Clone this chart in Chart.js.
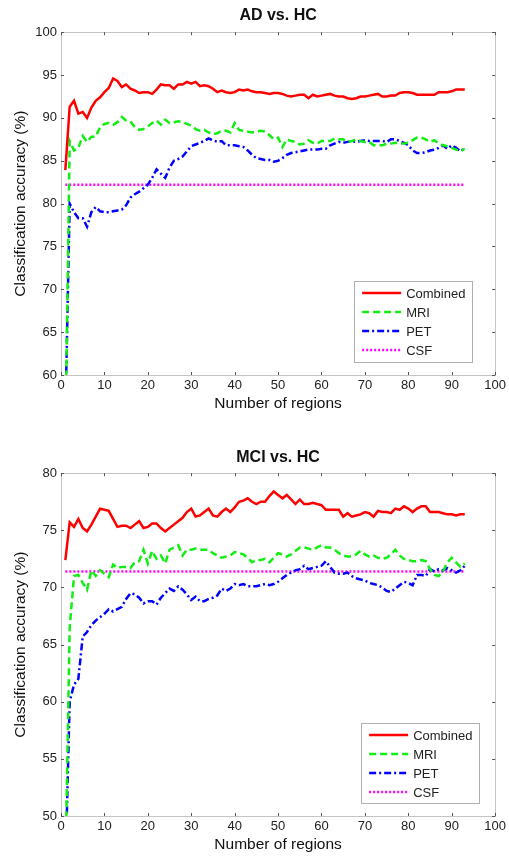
<!DOCTYPE html>
<html>
<head>
<meta charset="utf-8">
<script src="https://cdn.jsdelivr.net/npm/chart.js@4.4.1/dist/chart.umd.min.js"></script>
<style>
html, body { margin: 0; padding: 0; background: #fff; }
#wrapAD { position: absolute; left: 0; top: 0; width: 509px; height: 425px; }
#wrapMCI { position: absolute; left: 0; top: 425px; width: 509px; height: 434px; }
</style>
</head>
<body>
<div id="wrapAD"><canvas id="chartAD"></canvas></div>
<div id="wrapMCI"><canvas id="chartMCI"></canvas></div>
<script>
// number of regions (x values)
const regions = [1,2,3,4,5,6,7,8,9,10,11,12,13,14,15,16,17,18,19,20,21,22,23,24,25,26,27,28,29,30,
  31,32,33,34,35,36,37,38,39,40,41,42,43,44,45,46,47,48,49,50,51,52,53,54,55,56,57,58,59,60,
  61,62,63,64,65,66,67,68,69,70,71,72,73,74,75,76,77,78,79,80,81,82,83,84,85,86,87,88,89,90,91,92,93];

const seriesNames = ['Combined', 'MRI', 'PET', 'CSF'];
const xTicks = [0, 10, 20, 30, 40, 50, 60, 70, 80, 90, 100];

// AD vs. HC
const adCombined = [83.9,91.3,92.0,90.5,90.7,90.0,91.2,92.0,92.4,93.0,
  93.5,94.6,94.3,93.6,93.9,93.4,93.2,92.9,93.0,93.0,
  92.8,93.3,93.9,93.8,93.8,93.4,93.9,93.9,94.2,94.0,
  94.2,93.7,93.8,93.7,93.4,93.0,93.2,93.0,92.9,93.0,
  93.3,93.2,93.3,93.1,93.0,93.0,92.9,92.8,92.9,92.9,
  92.8,92.6,92.5,92.6,92.7,92.7,92.3,92.7,92.5,92.6,
  92.7,92.8,92.6,92.5,92.5,92.3,92.2,92.3,92.5,92.5,
  92.6,92.7,92.8,92.5,92.5,92.6,92.6,92.9,93.0,93.0,
  92.9,92.7,92.7,92.7,92.7,92.7,93.0,93.0,93.0,93.1,
  93.3,93.3,93.3];
const adMRI = [52,87.3,86.2,86.5,87.9,87.2,87.8,87.8,88.9,89.3,
  89.4,89.2,89.5,90.1,89.7,89.6,88.9,88.6,88.7,89.0,
  89.4,89.7,89.2,89.8,89.4,89.5,89.6,89.5,89.3,89.1,
  88.7,88.5,88.6,88.3,88.1,88.2,88.5,88.5,88.3,89.4,
  88.6,88.5,88.4,88.3,88.4,88.5,88.4,88.0,87.5,87.7,
  86.6,87.5,87.3,87.2,86.9,87.0,87.4,87.1,87.0,87.3,
  87.3,87.3,87.6,87.5,87.5,87.2,87.3,87.5,87.3,87.2,
  87.2,86.8,86.8,86.8,87.0,87.0,87.1,87.0,87.0,87.1,
  87.4,87.7,87.7,87.5,87.2,87.4,87.0,86.8,86.7,86.5,
  86.3,86.1,86.4];
const adPET = [55,80.0,79.0,78.3,78.3,77.3,79.0,79.6,79.1,79.0,
  79.0,79.1,79.2,79.3,79.8,80.7,81.1,81.4,81.8,82.2,
  83.0,84.0,83.5,83.0,84.2,85.0,85.2,85.5,86.1,86.7,
  86.9,87.1,87.3,87.6,87.4,87.2,87.3,86.8,86.8,86.8,
  86.7,86.6,86.2,85.7,85.3,85.2,85.1,85.1,84.9,85.0,
  85.3,85.7,85.9,86.0,86.1,86.2,86.3,86.3,86.3,86.4,
  86.4,86.8,87.0,87.2,87.1,87.2,87.3,87.2,87.3,87.4,
  87.3,87.3,87.3,87.3,87.2,87.5,87.5,87.3,87.1,86.8,
  86.2,85.9,85.9,86.0,86.2,86.3,86.5,86.8,86.4,86.8,
  86.5,86.1,86.5];
const adCSF = 82.2;
const adYTicks = [60, 65, 70, 75, 80, 85, 90, 95, 100];

// MCI vs. HC
const mciCombined = [72.4,75.7,75.3,76.0,75.2,74.9,75.5,76.2,76.9,76.8,
  76.7,76.0,75.3,75.4,75.4,75.2,75.5,75.8,75.2,75.3,
  75.6,75.6,75.2,74.9,75.2,75.5,75.8,76.1,76.6,76.9,
  76.2,76.3,76.6,76.9,76.3,76.2,76.6,76.9,76.6,77.0,
  77.5,77.6,77.8,77.5,77.3,77.5,77.5,78.0,78.4,78.1,
  77.8,78.1,77.7,77.3,77.7,77.3,77.3,77.4,77.3,77.2,
  76.8,76.8,76.8,76.8,76.2,76.5,76.2,76.3,76.4,76.6,
  76.5,76.2,76.7,76.6,76.6,76.5,76.9,76.8,77.1,76.9,
  76.6,76.9,77.1,77.1,76.6,76.6,76.6,76.5,76.4,76.4,
  76.3,76.4,76.4];
const mciMRI = [45,66.5,71.0,71.1,70.4,69.8,71.5,71.0,71.5,71.2,
  70.9,72.0,71.7,71.8,71.8,71.7,72.2,72.3,73.3,72.1,
  73.2,72.5,72.8,72.1,73.3,73.5,73.7,72.8,73.3,73.3,
  73.4,73.3,73.3,73.3,73.0,72.8,72.6,72.7,72.8,73.1,
  73.0,72.9,72.6,72.2,72.4,72.4,72.5,72.2,72.6,73.0,
  72.9,72.7,72.9,73.2,73.5,73.5,73.4,73.3,73.5,73.7,
  73.5,73.5,73.3,73.0,72.8,72.7,72.7,72.9,73.2,72.9,
  72.7,72.8,72.6,72.5,72.6,72.9,73.3,72.8,72.5,72.4,
  72.3,72.3,72.4,72.3,71.6,71.1,71.0,71.4,72.2,72.6,
  72.2,71.8,72.1];
const mciPET = [45,60.0,61.5,62.0,65.7,66.1,66.7,67.1,67.4,67.7,
  68.1,67.9,68.1,68.3,69.0,69.5,69.4,69.1,68.6,68.8,
  68.8,68.5,69.1,69.5,69.9,69.7,70.1,69.8,69.4,68.9,
  69.2,68.8,68.8,69.0,69.1,69.3,69.9,69.7,69.9,70.3,
  70.2,70.3,70.1,70.1,70.1,70.2,70.3,70.2,70.3,70.5,
  70.8,71.1,71.3,71.5,71.6,71.9,71.6,71.7,71.8,71.9,
  72.3,71.8,71.3,71.2,71.2,71.3,71.0,70.8,70.7,70.6,
  70.4,70.3,70.2,70.0,69.7,69.6,69.9,70.2,70.5,70.4,
  70.2,71.1,71.1,71.0,71.6,71.4,71.6,71.5,71.7,71.5,
  71.3,71.5,71.9];
const mciCSF = 71.4;
const mciYTicks = [50, 55, 60, 65, 70, 75, 80];

const FONT = "'Liberation Sans', Arial, sans-serif";

function pts(values) {
  return values.map((v, i) => ({ x: regions[i], y: v }));
}

// centre the title over the plot area instead of the whole canvas
const titleOverPlot = {
  id: 'titleOverPlot',
  afterLayout(chart) {
    const t = chart.titleBlock;
    if (!t) return;
    t.left = chart.chartArea.left;
    t.right = chart.chartArea.right;
    t.width = t.right - t.left;
  }
};

// axes box + inward ticks, like MATLAB
const framePlugin = {
  id: 'frame',
  beforeDatasetsDraw(chart) {
    const { ctx, chartArea: a, scales: { x, y } } = chart;
    ctx.save();
    ctx.strokeStyle = '#c4c4c4';
    ctx.lineWidth = 1;
    ctx.strokeRect(Math.round(a.left) + 0.5, Math.round(a.top) + 0.5,
      Math.round(a.right - a.left), Math.round(a.bottom - a.top));
    ctx.strokeStyle = '#555';
    ctx.beginPath();
    x.ticks.forEach(t => {
      const px = Math.round(x.getPixelForValue(t.value)) + 0.5;
      ctx.moveTo(px, a.bottom); ctx.lineTo(px, a.bottom - 3);
      ctx.moveTo(px, a.top); ctx.lineTo(px, a.top + 3);
    });
    y.ticks.forEach(t => {
      const py = Math.round(y.getPixelForValue(t.value)) + 0.5;
      ctx.moveTo(a.left, py); ctx.lineTo(a.left + 3, py);
      ctx.moveTo(a.right, py); ctx.lineTo(a.right - 3, py);
    });
    ctx.stroke();
    ctx.restore();
  }
};

// legend box inside the plot, lower right
const boxLegend = {
  id: 'boxLegend',
  afterDraw(chart, args, opts) {
    const { ctx, chartArea: a } = chart;
    const bx = a.right - opts.right - opts.width;
    const by = a.bottom - opts.bottom - opts.height;
    ctx.save();
    ctx.fillStyle = '#fff';
    ctx.fillRect(bx, by, opts.width, opts.height);
    ctx.strokeStyle = '#b0b0b0';
    ctx.lineWidth = 1;
    ctx.strokeRect(Math.round(bx) + 0.5, Math.round(by) + 0.5, opts.width, opts.height);
    ctx.font = '13px ' + FONT;
    ctx.textBaseline = 'middle';
    chart.data.datasets.forEach((ds, i) => {
      const ry = by + 12 + i * 19;
      ctx.strokeStyle = ds.borderColor;
      ctx.lineWidth = ds.borderWidth;
      ctx.setLineDash(ds.borderDash || []);
      ctx.beginPath();
      ctx.moveTo(bx + 8, ry);
      ctx.lineTo(bx + 47, ry);
      ctx.stroke();
      ctx.setLineDash([]);
      ctx.fillStyle = '#222';
      ctx.fillText(ds.label, bx + 52, ry + 1);
    });
    ctx.restore();
  }
};

function makeChart(id, title, combined, mri, pet, csf, yTicks, cfg) {
  const yMin = yTicks[0], yMax = yTicks[yTicks.length - 1];
  return new Chart(document.getElementById(id), {
    type: 'line',
    data: {
      datasets: [
        { label: seriesNames[0], data: pts(combined), borderColor: '#ff0000', borderWidth: 2.5 },
        { label: seriesNames[1], data: pts(mri), borderColor: '#11ee11', borderWidth: 2.5, borderDash: [7, 4] },
        { label: seriesNames[2], data: pts(pet), borderColor: '#0000ff', borderWidth: 2.5, borderDash: [7, 3, 2, 3] },
        { label: seriesNames[3], data: [{ x: regions[0], y: csf }, { x: regions[regions.length - 1], y: csf }],
          borderColor: '#ff00ff', borderWidth: 2.5, borderDash: [2, 2] }
      ]
    },
    options: {
      responsive: true,
      maintainAspectRatio: false,
      animation: false,
      layout: { padding: { left: 0, right: 2, top: 0, bottom: 0 } },
      elements: { point: { radius: 0 }, line: { tension: 0 } },
      plugins: {
        legend: { display: false },
        tooltip: { enabled: false },
        title: {
          display: true, text: title, color: '#111',
          font: { family: FONT, size: 16, weight: 'bold' },
          padding: { top: cfg.titleTop, bottom: cfg.titleBottom }
        },
        boxLegend: cfg.legend
      },
      scales: {
        x: {
          type: 'linear', min: 0, max: 100,
          afterBuildTicks: s => { s.ticks = xTicks.map(v => ({ value: v })); },
          afterFit: s => { s.height = cfg.xHeight; },
          grid: { display: false, drawTicks: false },
          border: { display: false },
          ticks: { color: '#222', padding: 3, font: { family: FONT, size: 13 } },
          title: { display: true, text: 'Number of regions', color: '#111',
            font: { family: FONT, size: 15.5 }, padding: { top: 0, bottom: cfg.xTitleBottom } }
        },
        y: {
          min: yMin, max: yMax,
          afterBuildTicks: s => { s.ticks = yTicks.map(v => ({ value: v })); },
          afterFit: s => { s.width = 61; },
          grid: { display: false, drawTicks: false },
          border: { display: false },
          ticks: { color: '#222', padding: 4, font: { family: FONT, size: 13 } },
          title: { display: true, text: 'Classification accuracy (%)', color: '#111',
            font: { family: FONT, size: 15.5 }, padding: { top: 11, bottom: 0 } }
        }
      }
    },
    plugins: [titleOverPlot, framePlugin, boxLegend]
  });
}

makeChart('chartAD', 'AD vs. HC', adCombined, adMRI, adPET, adCSF, adYTicks, {
  titleTop: 6, titleBottom: 7, xHeight: 50, xTitleBottom: 12,
  legend: { right: 23, bottom: 13, width: 118, height: 81 }
});
makeChart('chartMCI', 'MCI vs. HC', mciCombined, mciMRI, mciPET, mciCSF, mciYTicks, {
  titleTop: 23, titleBottom: 6, xHeight: 43, xTitleBottom: 5,
  legend: { right: 16, bottom: 13, width: 118, height: 80 }
});
</script>
</body>
</html>
